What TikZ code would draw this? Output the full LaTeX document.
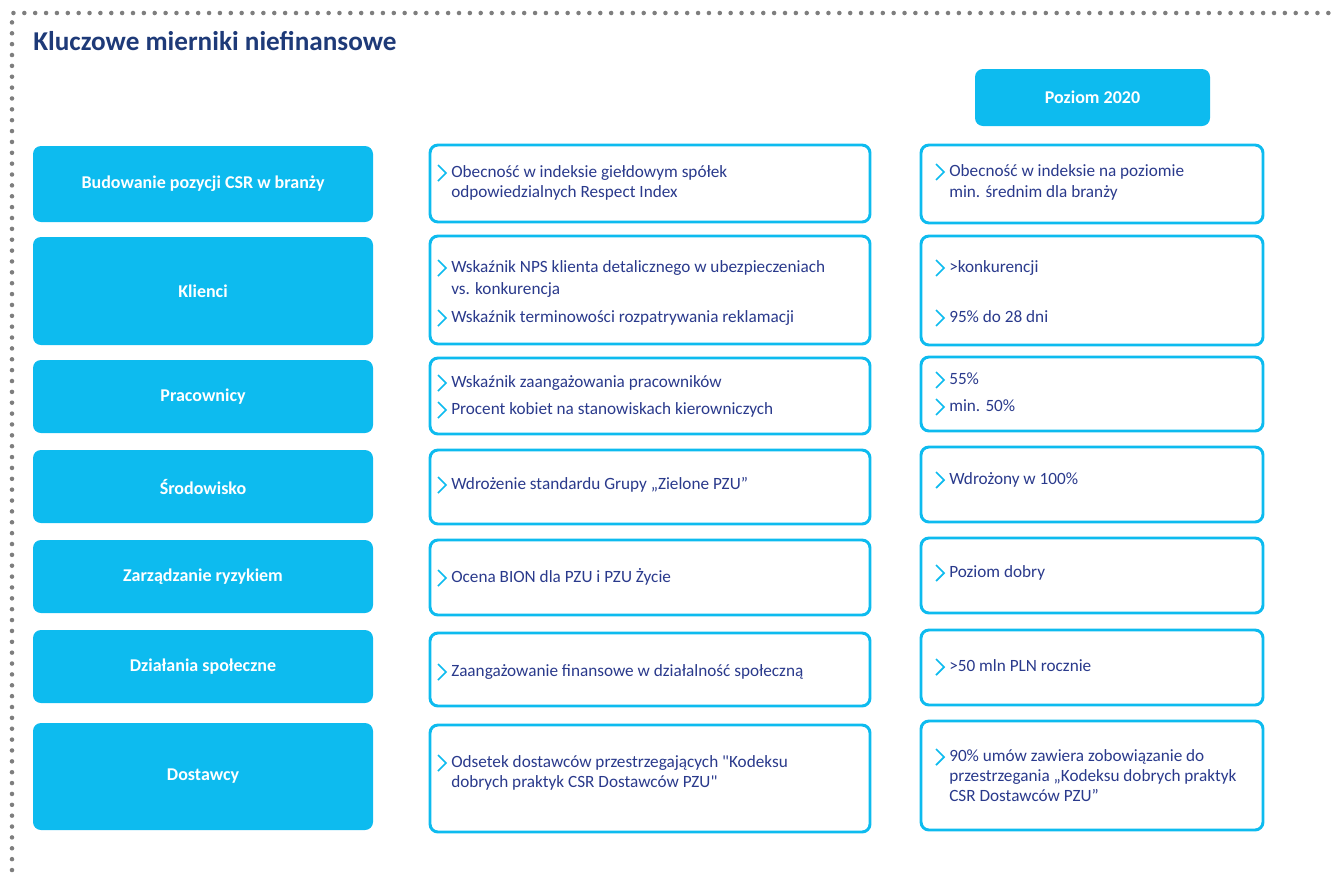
\documentclass[tikz,border=0pt]{standalone}
\usepackage{fontspec}
\setmainfont{Carlito}
\newfontfamily\qfont{Carlito}
\definecolor{cy}{HTML}{0DBBEF}
\definecolor{nv}{HTML}{2A3A8C}
\definecolor{tt}{HTML}{1E3A78}
\definecolor{dotg}{HTML}{7E7E7E}
\newcommand\bx[6]{\node[#6, minimum width={(#4-#2)*0.75pt}, minimum height={(#5-#3)*0.75pt}] (#1) at ({(#2+#4)/2},{(#3+#5)/2}) {};}
\newcommand\itm[4]{\node[txt] (#1) at (#2,#3+4) {#4};\draw[chev] (#2-13,#3-8) -- (#2-5,#3) -- (#2-13,#3+8);}
\newcommand\cont[4]{\node[txt] (#1) at (#2,#3+4) {#4};}
\newcommand\sq{{\qfont"}}
\begin{document}
\begin{tikzpicture}[x=0.75pt,y=-0.75pt,
 fbox/.style={fill=cy, rounded corners=6pt, inner sep=0pt, outer sep=0pt},
 obox/.style={draw=cy, line width=2.2pt, fill=white, rounded corners=6pt, inner sep=0pt, outer sep=0pt},
 lbl/.style={text=white, font=\fontsize{13.5}{15}\selectfont\bfseries, inner sep=0pt},
 txt/.style={text=nv, font=\fontsize{12.9}{14}\selectfont, inner sep=0pt, anchor=base west},
 chev/.style={draw=cy, line width=1.3pt, line join=miter},
 dots/.style={draw=dotg, line width=3.4pt, line cap=round, dash pattern=on 0pt off 8.15pt}]
\useasboundingbox (0,0) rectangle (1334,872);
\draw[dots] (12,870) -- (12,13) -- (1334,13);
\node[anchor=base west, text=tt, font=\fontsize{20.4}{23}\selectfont\bfseries, inner sep=0pt] (title) at (33,50) {Kluczowe mierniki niefinansowe};
% header
\bx{hdr}{975}{69}{1210}{126}{fbox}
\node[lbl] (hdrt) at (hdr) {Poziom 2020};
% left boxes
\bx{l1}{33}{146}{373}{222}{fbox}
\bx{l2}{33}{237}{373}{345}{fbox}
\bx{l3}{33}{360}{373}{433}{fbox}
\bx{l4}{33}{450}{373}{523}{fbox}
\bx{l5}{33}{540}{373}{613}{fbox}
\bx{l6}{33}{630}{373}{703}{fbox}
\bx{l7}{33}{723}{373}{830}{fbox}
\node[lbl] (l1t) at (l1) {Budowanie pozycji CSR w branży};
\node[lbl] (l2t) at (l2) {Klienci};
\node[lbl] (l3t) at (l3) {Pracownicy};
\node[lbl] (l4t) at (l4) {Środowisko};
\node[lbl] (l5t) at (l5) {Zarządzanie ryzykiem};
\node[lbl] (l6t) at (l6) {Działania społeczne};
\node[lbl] (l7t) at (l7) {Dostawcy};
% middle boxes
\bx{m1}{430}{145}{870}{222}{obox}
\bx{m2}{430}{236}{870}{344}{obox}
\bx{m3}{430}{358}{870}{434}{obox}
\bx{m4}{430}{450}{870}{524}{obox}
\bx{m5}{430}{540}{870}{615}{obox}
\bx{m6}{430}{633}{870}{706}{obox}
\bx{m7}{430}{725}{870}{832}{obox}
% right boxes
\bx{r1}{921}{145}{1263}{223}{obox}
\bx{r2}{921}{236}{1263}{345}{obox}
\bx{r3}{921}{357}{1263}{431}{obox}
\bx{r4}{921}{447}{1263}{522}{obox}
\bx{r5}{921}{538}{1263}{613}{obox}
\bx{r6}{921}{630}{1263}{705}{obox}
\bx{r7}{921}{721}{1263}{830}{obox}
% middle texts
\itm{m1a}{451}{173}{Obecność w indeksie giełdowym spółek}
\cont{m1b}{451}{193}{odpowiedzialnych Respect Index}
\itm{m2a}{451}{268}{Wskaźnik NPS klienta detalicznego w ubezpieczeniach}
\cont{m2b}{451}{290}{vs. konkurencja}
\itm{m2c}{451}{318}{Wskaźnik terminowości rozpatrywania reklamacji}
\itm{m3a}{451}{383}{Wskaźnik zaangażowania pracowników}
\itm{m3b}{451}{410}{Procent kobiet na stanowiskach kierowniczych}
\itm{m4a}{451}{485}{Wdrożenie standardu Grupy „Zielone PZU”}
\itm{m5a}{451}{578}{Ocena BION dla PZU i PZU Życie}
\itm{m6a}{451}{672}{Zaangażowanie finansowe w działalność społeczną}
\itm{m7a}{451}{763}{Odsetek dostawców przestrzegających \sq Kodeksu}
\cont{m7b}{451}{783}{dobrych praktyk CSR Dostawców PZU\sq}
% right texts
\itm{r1a}{949}{172}{Obecność w indeksie na poziomie}
\cont{r1b}{949}{193}{min. średnim dla branży}
\itm{r2a}{949}{268}{>konkurencji}
\itm{r2b}{949}{318}{95\% do 28 dni}
\itm{r3a}{949}{380}{55\%}
\itm{r3b}{949}{407}{min. 50\%}
\itm{r4a}{949}{480}{Wdrożony w 100\%}
\itm{r5a}{949}{573}{Poziom dobry}
\itm{r6a}{949}{667}{>50 mln PLN rocznie}
\itm{r7a}{949}{757}{90\% umów zawiera zobowiązanie do}
\cont{r7b}{949}{777}{przestrzegania „Kodeksu dobrych praktyk}
\cont{r7c}{949}{797}{CSR Dostawców PZU”}
\end{tikzpicture}
\end{document}
